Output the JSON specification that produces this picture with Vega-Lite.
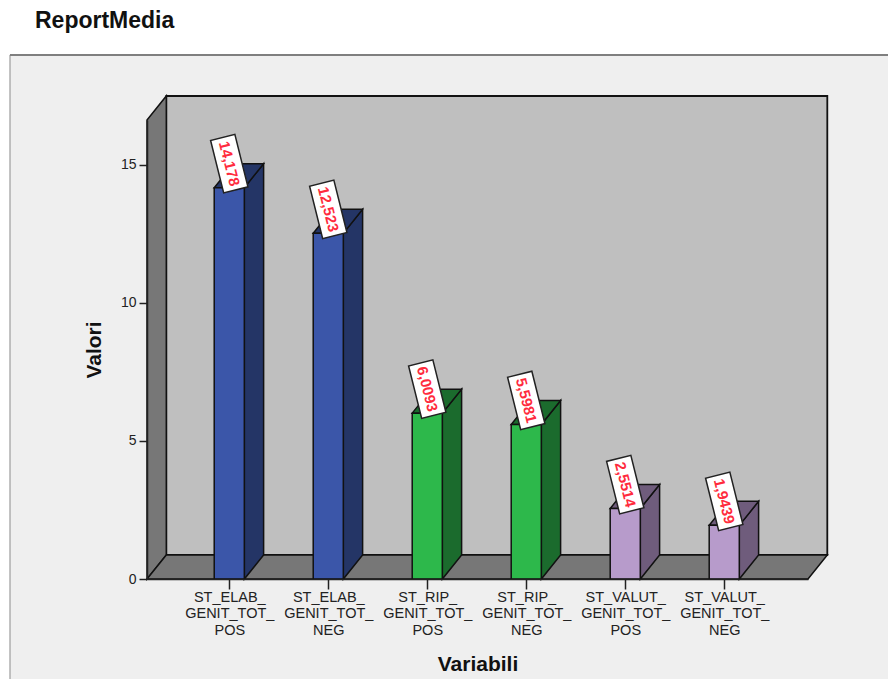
{
  "$schema": "https://vega.github.io/schema/vega-lite/v6.json",
  "width": 661,
  "height": 459,
  "padding": {"left": 147, "top": 120, "right": 80, "bottom": 100},
  "autosize": {"type": "none"},
  "background": "#ffffff",
  "title": {
    "text": "ReportMedia",
    "anchor": "start",
    "frame": "group",
    "font": "Liberation Sans",
    "fontSize": 23,
    "fontWeight": "bold",
    "color": "#111111",
    "dx": -112,
    "dy": -17
  },
  "config": {"view": {"stroke": null}},
  "datasets": {
    "medie": [
      {"variabile": "ST_ELAB_GENIT_TOT_POS", "posizione": 1, "valore": 14.178, "etichetta": "14,178", "gruppo": "ELAB"},
      {"variabile": "ST_ELAB_GENIT_TOT_NEG", "posizione": 2, "valore": 12.523, "etichetta": "12,523", "gruppo": "ELAB"},
      {"variabile": "ST_RIP_GENIT_TOT_POS", "posizione": 3, "valore": 6.0093, "etichetta": "6,0093", "gruppo": "RIP"},
      {"variabile": "ST_RIP_GENIT_TOT_NEG", "posizione": 4, "valore": 5.5981, "etichetta": "5,5981", "gruppo": "RIP"},
      {"variabile": "ST_VALUT_GENIT_TOT_POS", "posizione": 5, "valore": 2.5514, "etichetta": "2,5514", "gruppo": "VALUT"},
      {"variabile": "ST_VALUT_GENIT_TOT_NEG", "posizione": 6, "valore": 1.9439, "etichetta": "1,9439", "gruppo": "VALUT"}
    ],
    "fondo": [{"px": -1.215, "px1": 7.8, "py": 18.986, "py1": -3.8}],
    "pareteFondo": [{"px": 0.364, "px1": 7.041, "py": 0.87, "py1": 17.5}],
    "pareteSinistra": [
      {"px": 0.169, "py": 0, "py1": 16.63},
      {"px": 0.364, "py": 0.87, "py1": 17.5}
    ],
    "pavimento": [
      {"px": 0.169, "px1": 6.846, "py": 0},
      {"px": 0.364, "px1": 7.041, "py": 0.87}
    ]
  },
  "encoding": {
    "x": {
      "field": "px",
      "type": "quantitative",
      "scale": {"domain": [0.169, 6.846], "nice": false, "zero": false},
      "axis": {
        "title": "Variabili",
        "titleFont": "Liberation Sans",
        "titleFontSize": 21,
        "titleFontWeight": "bold",
        "titleColor": "#111111",
        "titlePadding": 17,
        "values": [1, 2, 3, 4, 5, 6],
        "labelExpr": "[['ST_ELAB_','GENIT_TOT_','POS'],['ST_ELAB_','GENIT_TOT_','NEG'],['ST_RIP_','GENIT_TOT_','POS'],['ST_RIP_','GENIT_TOT_','NEG'],['ST_VALUT_','GENIT_TOT_','POS'],['ST_VALUT_','GENIT_TOT_','NEG']][datum.value - 1]",
        "labelFont": "Liberation Sans",
        "labelFontSize": 14.5,
        "labelColor": "#222222",
        "labelLineHeight": 16.5,
        "labelOverlap": false,
        "labelLimit": 200,
        "labelFlush": false,
        "labelPadding": 1,
        "tickSize": 10,
        "tickColor": "#222222",
        "tickWidth": 1.5,
        "domainColor": "#222222",
        "domainWidth": 1.5,
        "grid": false,
        "zindex": 1
      }
    },
    "y": {
      "field": "py",
      "type": "quantitative",
      "scale": {"domain": [0, 16.63], "nice": false, "zero": false},
      "axis": {
        "title": "Valori",
        "titleFont": "Liberation Sans",
        "titleFontSize": 21,
        "titleFontWeight": "bold",
        "titleColor": "#111111",
        "titlePadding": 16,
        "values": [0, 5, 10, 15],
        "labelFont": "Liberation Sans",
        "labelFontSize": 14,
        "labelColor": "#222222",
        "labelPadding": 3,
        "tickSize": 8,
        "tickColor": "#222222",
        "tickWidth": 1.5,
        "domainColor": "#222222",
        "domainWidth": 1.5,
        "grid": false,
        "zindex": 1
      }
    }
  },
  "layer": [
    {
      "description": "Chart panel; its right and bottom edges run past the canvas",
      "data": {"name": "fondo"},
      "mark": {"type": "rect", "fill": "#efefef", "stroke": "#8a8a8a", "strokeWidth": 1, "clip": false},
      "encoding": {"x2": {"field": "px1"}, "y2": {"field": "py1"}}
    },
    {
      "data": {"name": "fondo"},
      "mark": {"type": "rule", "stroke": "#7f7f7f", "strokeWidth": 2, "clip": false},
      "encoding": {"x2": {"field": "px1"}}
    },
    {
      "description": "Back wall",
      "data": {"name": "pareteFondo"},
      "mark": {"type": "rect", "fill": "#bfbfbf", "stroke": "#111111", "strokeWidth": 1.8, "clip": false},
      "encoding": {"x2": {"field": "px1"}, "y2": {"field": "py1"}}
    },
    {
      "description": "Left wall",
      "data": {"name": "pareteSinistra"},
      "mark": {"type": "area", "fill": "#777777", "stroke": "#111111", "strokeWidth": 1.5, "clip": false},
      "encoding": {"y2": {"field": "py1"}}
    },
    {
      "description": "Floor",
      "data": {"name": "pavimento"},
      "mark": {"type": "area", "orient": "horizontal", "fill": "#777777", "stroke": "#111111", "strokeWidth": 1.5, "clip": false},
      "encoding": {"x2": {"field": "px1"}}
    },
    {
      "description": "Right face of each bar",
      "data": {"name": "medie"},
      "transform": [
        {"calculate": "[0, 1]", "as": "d"},
        {"flatten": ["d"]},
        {"calculate": "datum.posizione + 0.152 + 0.195 * datum.d", "as": "px"},
        {"calculate": "datum.valore + 0.87 * datum.d", "as": "py"},
        {"calculate": "0.87 * datum.d", "as": "py1"}
      ],
      "mark": {"type": "area", "stroke": "#111111", "strokeWidth": 1.5, "clip": false},
      "encoding": {
        "y2": {"field": "py1"},
        "detail": {"field": "variabile"},
        "color": {
          "field": "gruppo",
          "type": "nominal",
          "legend": null,
          "scale": {"domain": ["ELAB", "RIP", "VALUT"], "range": ["#243566", "#1b6b2d", "#6f5c7c"]}
        }
      }
    },
    {
      "description": "Top face of each bar",
      "data": {"name": "medie"},
      "transform": [
        {"calculate": "[0, 1]", "as": "d"},
        {"flatten": ["d"]},
        {"calculate": "datum.posizione - 0.152 + 0.195 * datum.d", "as": "px"},
        {"calculate": "datum.posizione + 0.152 + 0.195 * datum.d", "as": "px1"},
        {"calculate": "datum.valore + 0.87 * datum.d", "as": "py"}
      ],
      "mark": {"type": "area", "orient": "horizontal", "stroke": "#111111", "strokeWidth": 1.5, "clip": false},
      "encoding": {
        "x2": {"field": "px1"},
        "detail": {"field": "variabile"},
        "color": {
          "field": "gruppo",
          "type": "nominal",
          "legend": null,
          "scale": {"domain": ["ELAB", "RIP", "VALUT"], "range": ["#243566", "#1b6b2d", "#6f5c7c"]}
        }
      }
    },
    {
      "description": "Front face of each bar",
      "data": {"name": "medie"},
      "transform": [
        {"calculate": "datum.posizione - 0.152", "as": "px"},
        {"calculate": "datum.posizione + 0.152", "as": "px1"},
        {"calculate": "datum.valore", "as": "py"},
        {"calculate": "0", "as": "py1"}
      ],
      "mark": {"type": "rect", "stroke": "#111111", "strokeWidth": 1.5, "clip": false},
      "encoding": {
        "x2": {"field": "px1"},
        "y2": {"field": "py1"},
        "color": {
          "field": "gruppo",
          "type": "nominal",
          "legend": null,
          "scale": {"domain": ["ELAB", "RIP", "VALUT"], "range": ["#3b56a9", "#2db84b", "#b79bcb"]}
        }
      }
    },
    {
      "description": "Tilted white tag behind each value",
      "data": {"name": "medie"},
      "transform": [
        {"calculate": "datum.posizione", "as": "px"},
        {"calculate": "datum.valore", "as": "py"}
      ],
      "mark": {
        "type": "point",
        "shape": "M-2.7,-1.25L2.7,-1.25L2.7,1.25L-2.7,1.25Z",
        "size": 400,
        "angle": 76,
        "filled": true,
        "fill": "#ffffff",
        "stroke": "#222222",
        "strokeWidth": 1.5,
        "opacity": 1,
        "yOffset": -24,
        "clip": false
      }
    },
    {
      "description": "Value written along each tag",
      "data": {"name": "medie"},
      "transform": [
        {"calculate": "datum.posizione", "as": "px"},
        {"calculate": "datum.valore", "as": "py"}
      ],
      "mark": {
        "type": "text",
        "angle": 76,
        "align": "center",
        "baseline": "middle",
        "font": "Liberation Sans",
        "fontSize": 15,
        "fontWeight": "bold",
        "fill": "#ff2b3d",
        "yOffset": -24,
        "clip": false
      },
      "encoding": {"text": {"field": "etichetta"}}
    }
  ],
  "resolve": {"scale": {"color": "independent"}}
}
